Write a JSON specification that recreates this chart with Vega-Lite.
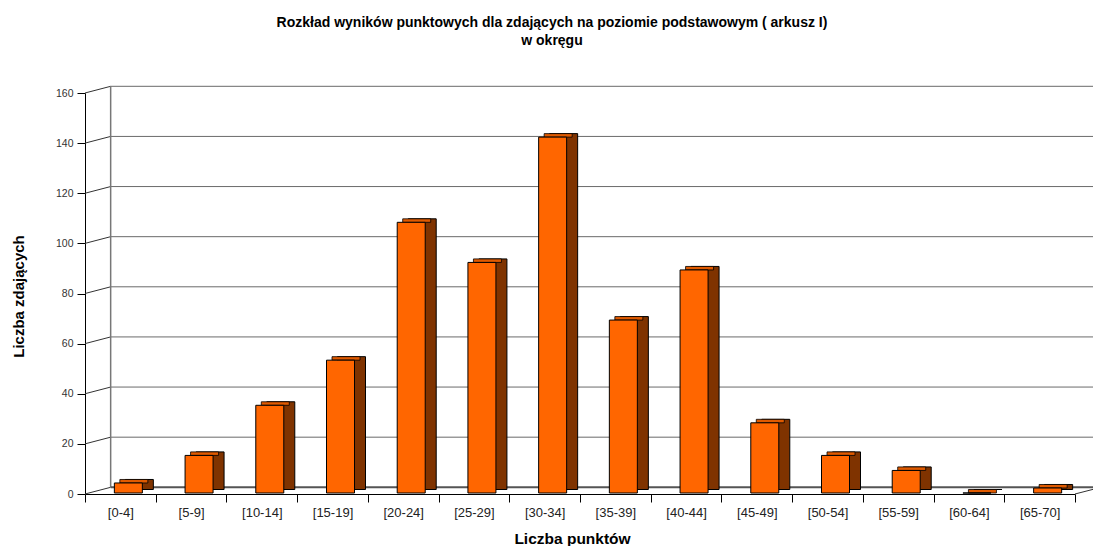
{
  "$schema": "https://vega.github.io/schema/vega-lite/v6.json",
  "width": 990,
  "height": 401,
  "autosize": "none",
  "padding": {"left": 85, "top": 93, "right": 18, "bottom": 52},
  "background": "white",
  "config": {"view": {"stroke": null}, "font": "Liberation Sans"},
  "title": {
    "text": ["Rozkład wyników punktowych dla zdających na poziomie podstawowym ( arkusz I)", "w okręgu"],
    "fontSize": 14,
    "fontWeight": "bold",
    "color": "#000",
    "lineHeight": 18,
    "offset": 38,
    "dx": -28,
    "anchor": "middle"
  },
  "datasets": {
    "bars": [
      {"przedzial": "[0-4]", "n": 4},
      {"przedzial": "[5-9]", "n": 15},
      {"przedzial": "[10-14]", "n": 35},
      {"przedzial": "[15-19]", "n": 53},
      {"przedzial": "[20-24]", "n": 108},
      {"przedzial": "[25-29]", "n": 92},
      {"przedzial": "[30-34]", "n": 142},
      {"przedzial": "[35-39]", "n": 69},
      {"przedzial": "[40-44]", "n": 89},
      {"przedzial": "[45-49]", "n": 28},
      {"przedzial": "[50-54]", "n": 15},
      {"przedzial": "[55-59]", "n": 9},
      {"przedzial": "[60-64]", "n": 0},
      {"przedzial": "[65-70]", "n": 2}
    ],
    "grid": [
      {"v": 0}, {"v": 20}, {"v": 40}, {"v": 60}, {"v": 80},
      {"v": 100}, {"v": 120}, {"v": 140}, {"v": 160}
    ]
  },
  "layer": [
    {
      "data": {"name": "grid"},
      "transform": [{"filter": "datum.v > 0"}],
      "mark": {"type": "rule", "color": "#6a6a6a", "strokeWidth": 1, "xOffset": -9.7, "x2Offset": 54, "yOffset": -6.7, "y2Offset": -6.7},
      "encoding": {
        "x": {
          "datum": "[0-4]", "type": "nominal",
          "scale": {"domain": ["[0-4]", "[5-9]", "[10-14]", "[15-19]", "[20-24]", "[25-29]", "[30-34]", "[35-39]", "[40-44]", "[45-49]", "[50-54]", "[55-59]", "[60-64]", "[65-70]"], "paddingInner": 0, "paddingOuter": 0}
        },
        "x2": {"datum": "[65-70]"},
        "y": {
          "field": "v", "type": "quantitative",
          "scale": {"domain": [0, 160], "nice": false},
          "axis": {
            "values": [0, 20, 40, 60, 80, 100, 120, 140, 160],
            "grid": false,
            "tickSize": 8,
            "tickColor": "#000",
            "domainColor": "#000",
            "labelFontSize": 10.5,
            "labelColor": "#333",
            "labelPadding": 4,
            "title": "Liczba zdających",
            "titleFontSize": 15,
            "titleFontWeight": "bold",
            "titleColor": "#000",
            "titleBaseline": "middle",
            "titleX": -67,
            "titleY": 203
          }
        },
        "y2": {"field": "v"}
      }
    },
    {
      "data": {"name": "grid"},
      "mark": {"type": "rule", "color": "#333", "strokeWidth": 1, "xOffset": -35.37, "x2Offset": -9.7, "y2Offset": -6.7},
      "encoding": {
        "x": {"datum": "[0-4]", "type": "nominal"},
        "x2": {"datum": "[0-4]"},
        "y": {"field": "v", "type": "quantitative"},
        "y2": {"field": "v"}
      }
    },
    {
      "data": {"values": [{"a": 0, "b": 160}]},
      "mark": {"type": "rule", "color": "#777", "strokeWidth": 1.5, "xOffset": -9.7, "yOffset": -6.7, "y2Offset": -6.7},
      "encoding": {
        "x": {"datum": "[0-4]", "type": "nominal"},
        "y": {"field": "a", "type": "quantitative"},
        "y2": {"field": "b"}
      }
    },
    {
      "data": {"values": [{"a": 0}]},
      "mark": {"type": "rule", "color": "#555", "strokeWidth": 2, "xOffset": -9.7, "x2Offset": 54, "yOffset": -6.7, "y2Offset": -6.7},
      "encoding": {
        "x": {"datum": "[0-4]", "type": "nominal"},
        "x2": {"datum": "[65-70]"},
        "y": {"field": "a", "type": "quantitative"},
        "y2": {"field": "a"}
      }
    },
    {
      "data": {"values": [{"a": 0}]},
      "mark": {"type": "rule", "color": "#333", "strokeWidth": 1, "xOffset": 35.37, "x2Offset": 54, "y2Offset": -4.8},
      "encoding": {
        "x": {"datum": "[65-70]", "type": "nominal"},
        "x2": {"datum": "[65-70]"},
        "y": {"field": "a", "type": "quantitative"},
        "y2": {"field": "a"}
      }
    },
    {
      "data": {"name": "bars"},
      "mark": {"type": "bar", "width": 28, "color": "#7f3300", "stroke": "#000", "strokeWidth": 1, "xOffset": 19, "yOffset": -4.5, "y2Offset": -4.5},
      "encoding": {
        "x": {"field": "przedzial", "type": "nominal"},
        "y": {"field": "n", "type": "quantitative"},
        "y2": {"datum": 0}
      }
    },
    {
      "data": {"name": "bars"},
      "mark": {"type": "bar", "width": 28, "color": "#e05a00", "stroke": "#000", "strokeWidth": 0.8, "xOffset": 13.5, "yOffset": -4.5, "y2Offset": -1},
      "encoding": {
        "x": {"field": "przedzial", "type": "nominal"},
        "y": {"field": "n", "type": "quantitative"},
        "y2": {"field": "n"}
      }
    },
    {
      "data": {"name": "bars"},
      "mark": {"type": "bar", "width": 28, "color": "#ff6600", "stroke": "#000", "strokeWidth": 1, "xOffset": 8, "yOffset": -1, "y2Offset": -1},
      "encoding": {
        "x": {
          "field": "przedzial", "type": "nominal",
          "axis": {
            "tickBand": "extent",
            "tickSize": 8,
            "tickColor": "#000",
            "domainColor": "#000",
            "labelAngle": 0,
            "labelAlign": "center",
            "labelFontSize": 13,
            "labelColor": "#222",
            "labelPadding": 10,
            "title": "Liczba punktów",
            "titleFontSize": 15.5,
            "titleFontWeight": "bold",
            "titleColor": "#000",
            "titleBaseline": "middle",
            "titleAlign": "center",
            "titleX": 487,
            "titleY": 44
          }
        },
        "y": {"field": "n", "type": "quantitative"},
        "y2": {"datum": 0}
      }
    }
  ]
}
